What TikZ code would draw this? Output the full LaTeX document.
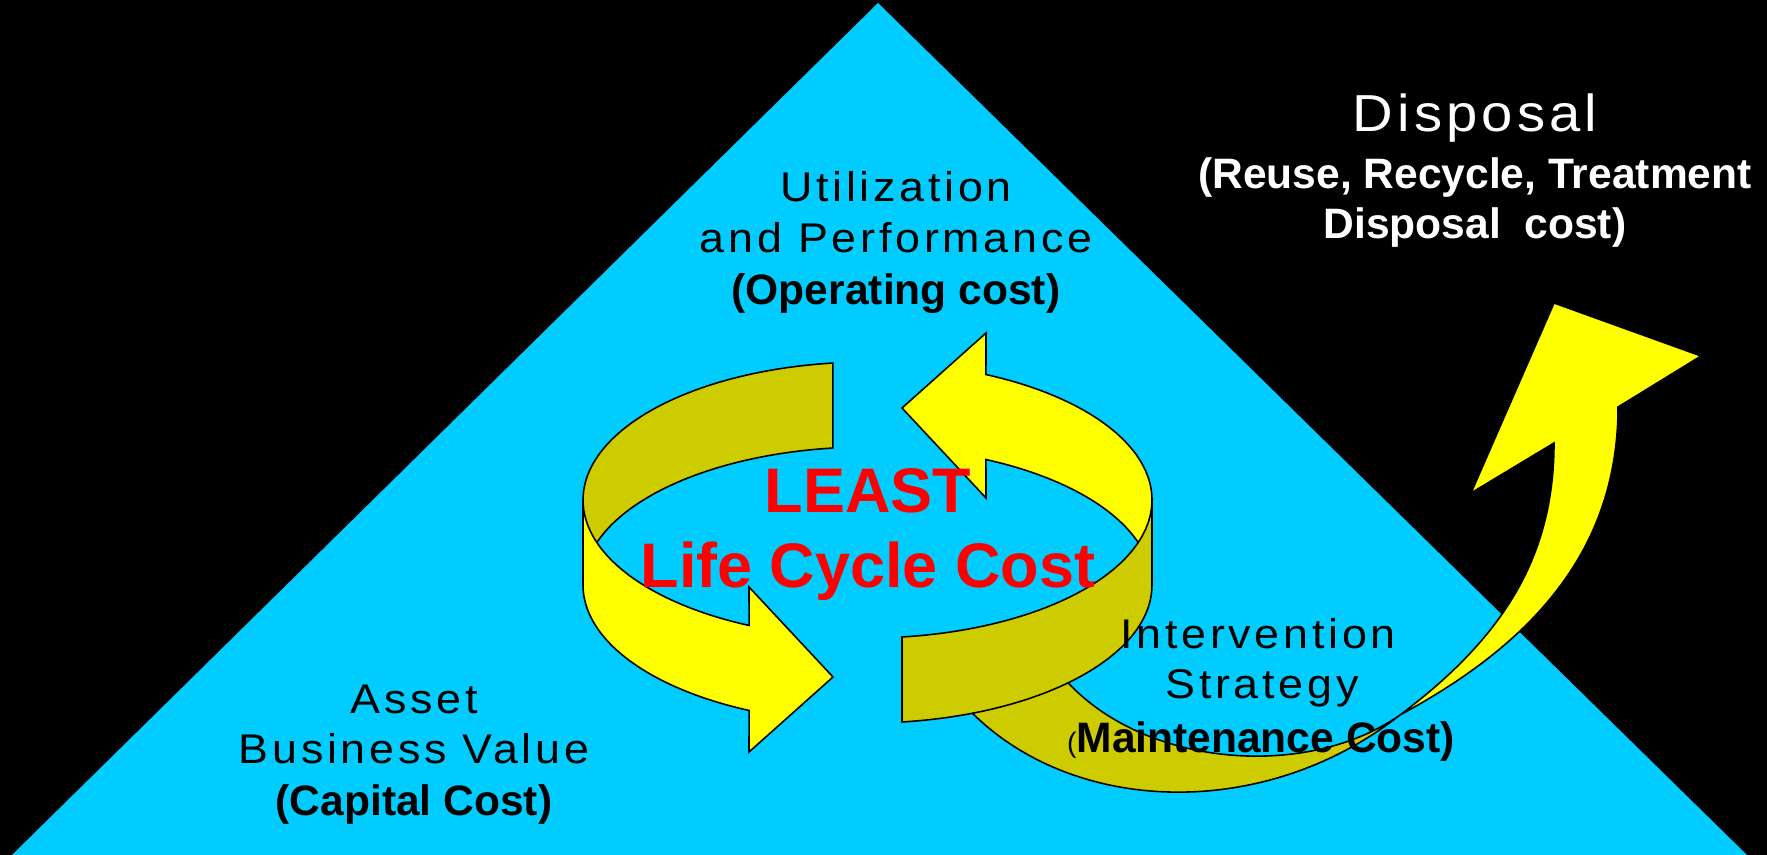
\documentclass[tikz,border=0pt]{standalone}
\usepackage{fontspec}
\setmainfont{Liberation Sans}
\newfontfamily\lblfont{Liberation Sans}[FakeStretch=1.08,LetterSpace=9]
\newfontfamily\displfont{Liberation Sans}[FakeStretch=1.08,LetterSpace=8]
\definecolor{tricyan}{HTML}{00CCFF}
\definecolor{arrowyellow}{HTML}{FFFF00}
\definecolor{arrowolive}{HTML}{CCCC00}
\definecolor{lccred}{HTML}{FF0000}
\tikzset{
  ring/.style={draw=black, line width=0.45pt, line join=miter},
  lbl/.style={anchor=base, inner sep=0pt, text=black, font=\lblfont\fontsize{11.8}{14}\selectfont},
  boldlbl/.style={anchor=base, inner sep=0pt, text=black, font=\fontsize{12.1}{14}\selectfont\bfseries},
  redlbl/.style={anchor=base, inner sep=0pt, text=lccred, font=\fontsize{17.9}{21}\selectfont\bfseries},
  displbl/.style={anchor=base, inner sep=0pt, text=white, font=\displfont\fontsize{14.8}{17}\selectfont},
  dispbold/.style={anchor=base, inner sep=0pt, text=white, font=\fontsize{12.1}{14}\selectfont\bfseries}
}
\begin{document}
\begin{tikzpicture}[x=0.01cm,y=-0.01cm]
\def\RX{867.5}\def\RA{284.5}\def\RB{138}\def\UY{500}\def\LY{585}
\useasboundingbox (0,0) rectangle (1767,855);
\fill[black] (0,0) rectangle (1767,855);
\fill[tricyan] (878,3) -- (12,855) -- (1747,855) -- cycle;

% left arrow, back inside wall (olive)
\filldraw[ring, fill=arrowolive]
  plot[domain=263:180,samples=50,variable=\t] ({\RX+\RA*cos(\t)},{\UY+\RB*sin(\t)})
  -- plot[domain=180:263,samples=50,variable=\t] ({\RX+\RA*cos(\t)},{\LY+\RB*sin(\t)})
  -- cycle;

% right arrow, back inside wall (yellow) with head
\filldraw[ring, fill=arrowyellow]
  plot[domain=294.6:360,samples=50,variable=\t] ({\RX+\RA*cos(\t)},{\UY+\RB*sin(\t)})
  -- plot[domain=360:294.6,samples=50,variable=\t] ({\RX+\RA*cos(\t)},{\LY+\RB*sin(\t)})
  -- (986,498) -- (902,408) -- (986,333) -- cycle;

% left arrow, front outside wall (yellow) with head
\filldraw[ring, fill=arrowyellow]
  (583,500) -- (583,585)
  -- plot[domain=180:114.6,samples=50,variable=\t] ({\RX+\RA*cos(\t)},{\LY+\RB*sin(\t)})
  -- (749,752) -- (833,677) -- (749,587)
  -- plot[domain=114.6:180,samples=50,variable=\t] ({\RX+\RA*cos(\t)},{\UY+\RB*sin(\t)})
  -- cycle;

% disposal arrow, olive part
\filldraw[ring, fill=arrowolive]
  (1050,660) .. controls (1120,765) and (1300,785) .. (1400,715)
  .. controls (1260,825) and (1060,815) .. (960,700) -- cycle;
% disposal arrow, yellow part with head
\filldraw[ring, fill=arrowyellow]
  (1400,715) .. controls (1500,640) and (1554,560) .. (1554,443)
  -- (1471,493) -- (1554,303) -- (1701,356) -- (1618,407)
  .. controls (1618,560) and (1520,650) .. (1400,715) -- cycle;

% right arrow, front outside wall (olive)
\filldraw[ring, fill=arrowolive]
  plot[domain=0:83.03,samples=50,variable=\t] ({\RX+\RA*cos(\t)},{\UY+\RB*sin(\t)})
  -- plot[domain=83.03:0,samples=50,variable=\t] ({\RX+\RA*cos(\t)},{\LY+\RB*sin(\t)})
  -- cycle;

% texts
\node[displbl] (disp1) at (1475,132) {Disposal};
\node[dispbold] (disp2) at (1475,189) {(Reuse, Recycle, Treatment};
\node[dispbold] (disp3) at (1475,239) {Disposal\ \ cost)};

\node[lbl] (util1) at (896,202) {Utilization};
\node[lbl] (util2) at (896,253) {and Performance};
\node[boldlbl] (util3) at (896,305) {(Operating cost)};

\node[redlbl] (least1) at (868,512) {LEAST};
\node[redlbl] (least2) at (868,587) {Life Cycle Cost};

\node[lbl] (asset1) at (414,713) {Asset};
\node[lbl] (asset2) at (414,763) {Business Value};
\node[boldlbl] (asset3) at (414,815) {(Capital Cost)};

\node[lbl] (int1) at (1258,648) {Intervention};
\node[lbl] (int2) at (1262,698) {Strategy};
\node[boldlbl] (int3) at (1261,752) {{\mdseries\fontsize{8}{10}\selectfont(}Maintenance Cost)};
\end{tikzpicture}
\end{document}
